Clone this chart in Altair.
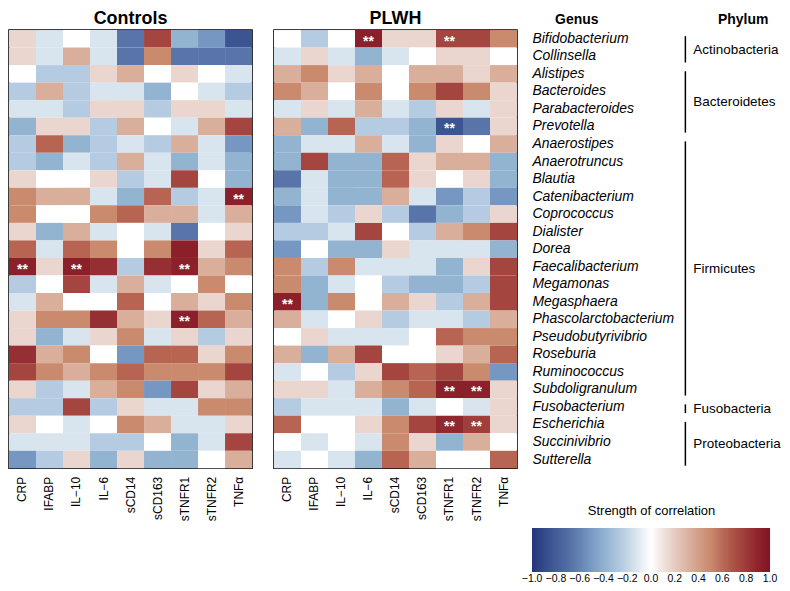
import altair as alt
import pandas as pd

genera = ["Bifidobacterium", "Collinsella", "Alistipes", "Bacteroides", "Parabacteroides",
          "Prevotella", "Anaerostipes", "Anaerotruncus", "Blautia", "Catenibacterium",
          "Coprococcus", "Dialister", "Dorea", "Faecalibacterium", "Megamonas",
          "Megasphaera", "Phascolarctobacterium", "Pseudobutyrivibrio", "Roseburia",
          "Ruminococcus", "Subdoligranulum", "Fusobacterium", "Escherichia",
          "Succinivibrio", "Sutterella"]
cytokines = ["CRP", "IFABP", "IL\u221210", "IL\u22126", "sCD14", "sCD163", "sTNFR1", "sTNFR2", "TNF\u03b1"]

controls = [
    [0.15, -0.13, 0.0, -0.13, -0.66, 0.75, -0.38, -0.52, -0.85],
    [0.15, -0.13, 0.33, -0.13, -0.66, 0.5, -0.66, -0.66, -0.66],
    [0.0, -0.25, -0.25, 0.15, 0.33, 0.0, 0.15, 0.0, -0.13],
    [-0.25, 0.33, -0.25, -0.13, -0.13, -0.38, 0.0, -0.13, -0.25],
    [-0.13, -0.13, -0.25, 0.15, 0.15, -0.25, 0.15, 0.15, -0.13],
    [-0.38, 0.15, 0.15, -0.25, 0.33, 0.0, -0.13, 0.33, 0.75],
    [-0.25, 0.62, -0.38, -0.25, -0.13, -0.25, 0.33, -0.13, -0.52],
    [-0.25, -0.38, -0.13, -0.25, 0.33, -0.13, -0.38, -0.13, -0.38],
    [0.15, 0.0, 0.0, 0.15, -0.25, -0.13, 0.75, 0.0, -0.38],
    [0.5, 0.33, 0.33, -0.13, -0.38, 0.62, -0.25, -0.13, 0.92],
    [0.5, 0.0, 0.0, 0.5, 0.62, 0.33, 0.33, -0.13, 0.33],
    [0.15, -0.38, 0.33, -0.13, 0.0, -0.13, -0.66, 0.0, 0.15],
    [0.62, -0.13, 0.62, 0.5, 0.0, 0.5, 0.92, 0.15, 0.62],
    [0.92, 0.15, 0.92, 0.85, -0.25, 0.85, 0.92, 0.33, 0.5],
    [-0.25, 0.0, 0.75, -0.13, 0.33, -0.13, 0.0, 0.5, 0.0],
    [-0.13, 0.33, 0.0, 0.0, 0.62, 0.0, 0.33, 0.15, 0.5],
    [0.15, 0.5, 0.5, 0.85, 0.33, 0.15, 0.92, 0.62, 0.33],
    [0.15, -0.38, -0.13, 0.15, 0.5, -0.13, 0.15, -0.25, 0.15],
    [0.85, 0.33, 0.5, 0.0, -0.52, 0.62, 0.62, 0.15, 0.5],
    [0.75, 0.5, 0.33, 0.5, 0.62, 0.5, 0.5, 0.5, 0.75],
    [0.15, -0.25, -0.13, 0.33, 0.5, -0.52, 0.75, 0.15, 0.33],
    [-0.25, -0.25, 0.75, -0.25, 0.15, -0.13, -0.13, 0.5, 0.5],
    [0.15, 0.0, -0.13, 0.0, 0.5, 0.33, -0.13, -0.13, 0.15],
    [-0.13, -0.13, -0.13, -0.25, -0.25, 0.0, -0.38, -0.13, 0.75],
    [-0.52, -0.25, 0.15, -0.38, 0.15, -0.38, -0.38, 0.0, 0.33],
]

plwh = [
    [0.0, -0.25, 0.0, 0.92, 0.15, 0.15, 0.75, 0.75, 0.5],
    [-0.13, 0.15, -0.13, -0.38, -0.13, 0.0, 0.15, 0.15, 0.0],
    [0.33, 0.5, 0.15, 0.33, 0.0, 0.33, 0.33, 0.15, 0.33],
    [0.5, 0.33, 0.0, 0.5, 0.0, 0.5, 0.75, 0.5, 0.15],
    [-0.13, 0.15, -0.13, 0.33, -0.13, -0.25, 0.15, -0.13, 0.15],
    [0.33, -0.38, 0.62, -0.25, -0.25, -0.38, -0.85, -0.66, 0.15],
    [-0.38, -0.13, -0.13, 0.33, -0.13, -0.38, 0.15, 0.0, 0.33],
    [-0.38, 0.75, -0.38, -0.38, 0.62, 0.15, 0.33, 0.33, -0.38],
    [-0.66, -0.13, -0.38, -0.38, 0.62, 0.15, 0.0, 0.15, -0.38],
    [-0.38, -0.13, -0.38, -0.38, 0.33, -0.13, -0.52, -0.25, -0.52],
    [-0.52, -0.13, -0.25, 0.15, -0.25, -0.66, -0.38, -0.25, 0.15],
    [-0.25, -0.25, -0.13, 0.75, 0.0, -0.25, 0.33, 0.5, 0.75],
    [-0.52, 0.0, -0.38, -0.38, 0.15, -0.13, -0.13, -0.13, -0.38],
    [0.5, -0.25, 0.5, -0.13, -0.13, -0.13, -0.38, 0.15, 0.75],
    [0.5, -0.38, -0.13, 0.0, -0.25, -0.38, -0.38, -0.25, 0.75],
    [0.92, -0.38, 0.5, 0.0, 0.33, 0.15, -0.25, 0.33, 0.75],
    [0.33, -0.13, 0.0, 0.15, -0.25, -0.13, -0.13, -0.25, 0.33],
    [0.0, 0.15, -0.13, -0.13, -0.13, 0.0, 0.62, 0.5, 0.5],
    [0.33, -0.38, 0.33, 0.75, 0.0, 0.0, 0.15, 0.33, 0.62],
    [-0.13, 0.0, -0.25, 0.15, 0.75, 0.62, 0.75, 0.5, -0.52],
    [0.15, 0.15, -0.13, 0.33, 0.5, 0.62, 0.92, 0.92, 0.15],
    [-0.25, -0.13, -0.13, -0.13, -0.38, -0.13, 0.0, -0.13, 0.15],
    [0.62, 0.0, 0.0, 0.15, 0.5, 0.75, 0.88, 0.78, 0.15],
    [0.0, -0.13, 0.0, -0.13, 0.5, 0.15, -0.38, 0.33, 0.0],
    [-0.13, 0.0, -0.13, -0.38, 0.62, 0.33, 0.0, 0.0, 0.62],
]

controls_stars = [(9, 8), (13, 0), (13, 2), (13, 6), (16, 6)]
plwh_stars = [(0, 3), (0, 6), (5, 6), (15, 0), (20, 6), (20, 7), (22, 6), (22, 7)]

phyla = ["Actinobacteria", "Bacteroidetes", "Firmicutes", "Fusobacteria", "Proteobacteria"]
phylum_first = [0, 2, 6, 21, 22]
phylum_last = [1, 5, 20, 21, 24]

legend_ticks = [-1.0, -0.8, -0.6, -0.4, -0.2, 0.0, 0.2, 0.4, 0.6, 0.8, 1.0]
color_stops = [-1.001, -0.85, -0.66, -0.52, -0.38, -0.25, -0.13, 0, 0.15, 0.33, 0.5, 0.62, 0.75, 0.92, 1.001]
color_hex = ["#25367a", "#3a5592", "#5874a8", "#7597c1", "#93b4d1", "#b4cbe2", "#d8e4ee", "#ffffff",
             "#ead6cf", "#d9ae9b", "#c98a6d", "#b76552", "#a4453f", "#8b1f2a", "#7f1526"]

FONT = "Liberation Sans"
W, H = 244, 440


def to_long(matrix, stars):
    rows = []
    for i, g in enumerate(genera):
        for j, c in enumerate(cytokines):
            rows.append({"genus": g, "cytokine": c, "r": matrix[i][j],
                         "star": "**" if (i, j) in stars else ""})
    return pd.DataFrame(rows)


color_scale = alt.Scale(domain=color_stops, range=color_hex, interpolate="rgb", clamp=True)


def panel(df, title, show_y):
    if show_y:
        yax = alt.Axis(orient="right", title=None, labelFontStyle="italic", labelFontSize=14,
                       labelPadding=15, ticks=False, domain=False, labelLimit=400,
                       labelColor="black")
    else:
        yax = None
    base = alt.Chart(df).encode(
        x=alt.X("cytokine:N", sort=cytokines, scale=alt.Scale(paddingInner=0, paddingOuter=0),
                axis=alt.Axis(labelAngle=-90, labelFontSize=12, ticks=False, domain=False,
                              labelPadding=8, labelColor="black", title=None)),
        y=alt.Y("genus:N", sort=genera, scale=alt.Scale(paddingInner=0, paddingOuter=0), axis=yax),
    )
    heat = base.mark_rect().encode(
        color=alt.Color("r:Q", scale=color_scale, title="Strength of correlation",
                        legend=alt.Legend(values=legend_ticks, format=".1f", labelOverlap=False))
    )
    stars = base.transform_filter(alt.datum.star != "").mark_text(
        color="white", fontSize=14, fontWeight="bold", dy=3, font=FONT
    ).encode(text="star:N")
    return alt.layer(heat, stars).properties(
        width=W, height=H,
        title=alt.Title(title, fontSize=18, fontWeight="bold", anchor="middle", offset=2, color="black"),
    )


controls_chart = panel(to_long(controls, controls_stars), "Controls", False)
plwh_chart = panel(to_long(plwh, plwh_stars), "PLWH", True)

ph_df = pd.DataFrame({"phylum": phyla, "first": phylum_first, "last": phylum_last})
ph_base = alt.Chart(ph_df).transform_calculate(
    mid="(datum.first + datum.last) / 2",
    y0="datum.first - 0.15",
    y1="datum.last + 0.35",
)
yscale = alt.Scale(domain=[-0.5, 24.5], reverse=True, nice=False, zero=False)
rules = ph_base.mark_rule(color="black", strokeWidth=1.5).encode(
    x=alt.value(0), y=alt.Y("y0:Q", scale=yscale, axis=None), y2="y1:Q"
)
ph_text = ph_base.mark_text(align="left", baseline="middle", fontSize=13.5, dy=2, font=FONT, color="black").encode(
    x=alt.value(8), y=alt.Y("mid:Q", scale=yscale, axis=None), text="phylum:N"
)
genus_head = alt.Chart(pd.DataFrame({"h": ["Genus"]})).mark_text(
    align="center", baseline="middle", fontSize=14, fontWeight="bold", font=FONT, color="black"
).encode(x=alt.value(-109), y=alt.value(-10), text="h:N")
phylum_head = alt.Chart(pd.DataFrame({"h": ["Phylum"]})).mark_text(
    align="center", baseline="middle", fontSize=14, fontWeight="bold", font=FONT, color="black"
).encode(x=alt.value(58), y=alt.value(-10), text="h:N")

phylum_chart = alt.layer(rules, ph_text, genus_head, phylum_head).properties(
    width=95, height=H,
    view=alt.ViewBackground(stroke="transparent"),
)

right = alt.hconcat(plwh_chart, phylum_chart, spacing=169, bounds="flush")
chart = alt.hconcat(controls_chart, right, spacing=22, bounds="flush").properties(
    padding={"left": 0, "top": 0, "right": 0, "bottom": 0}
).configure(font=FONT).configure_view(
    stroke="black", strokeWidth=1.5
).configure_legend(
    orient="none", legendX=525, legendY=477, direction="horizontal",
    gradientLength=239, gradientThickness=44, titleFontSize=13, titleFontWeight="normal",
    titleAnchor="middle", titleColor="black", titlePadding=10, labelFontSize=10.5,
    labelColor="black", labelOverlap=False, labelOffset=5,
).configure_axis(labelFont=FONT, titleFont=FONT)

chart.save("out.html", embed_options={"renderer": "svg", "actions": False})
